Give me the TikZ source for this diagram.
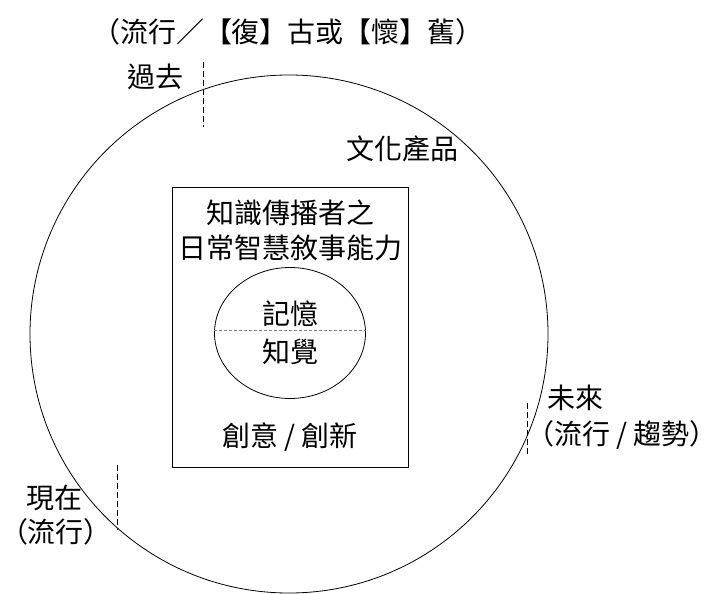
\documentclass[tikz,border=0pt]{standalone}
\usepackage{fontspec}
\setmainfont{Noto Sans CJK TC}
\usepackage{tikz}
\usetikzlibrary{positioning, shapes.geometric}

\tikzset{
    lbl/.style={inner sep=0pt, font=\fontsize{28}{35}\selectfont},
    tick/.style={black, line width=0.8pt, dash pattern=on 6pt off 3pt},
    rim/.style={draw, black, line width=0.8pt, inner sep=0pt},
}

\begin{document}
\begin{tikzpicture}[x=1pt, y=-1pt]
    \useasboundingbox (0,0) rectangle (718,594);

    % outer circle and inner box
    \node[rim, circle, minimum size=518pt] (product) at (289,334) {};
    \node[rim, rectangle, minimum width=236pt, minimum height=280pt] (narr) at (290,327) {};
    \node[rim, ellipse, minimum width=151pt, minimum height=131pt] (mind) at (290,333) {};

    % dashed split in the ellipse
    \draw[gray, line width=0.7pt, dash pattern=on 3pt off 2pt]
        (mind.178) -- (mind.2);

    % texts inside the box
    \node[lbl, align=center] (narrtxt) at (290,230) {知識傳播者之\\日常智慧敘事能力};
    \node[lbl] (memo) at (290,314) {記憶};
    \node[lbl] (perc) at (290,352) {知覺};
    \node[lbl] (crea) at (290,437) {創意 / 創新};

    % labels round the circle
    \foreach \name/\px/\py/\txt in {
        top/288/32/{（流行／【復】古或【懷】舊）},
        past/155/77/過去,
        prod/402/149/文化產品,
        trend/622/435/{（流行 / 趨勢）},
        now/55/498/現在,
        nowpop/56/532/（流行）}{
        \node[lbl] (\name) at (\px,\py) {\txt};
    }
    \node[lbl, anchor=west] (future) at (547,398) {未來};

    % time ticks
    \foreach \name/\px/\ya/\yb in {
        pst/203/62/127,
        fut/527/403/455,
        nw/117/465/530}{
        \coordinate (\name-a) at (\px,\ya);
        \coordinate (\name-b) at (\px,\yb);
        \draw[tick] (\name-a) -- (\name-b);
    }
\end{tikzpicture}
\end{document}
